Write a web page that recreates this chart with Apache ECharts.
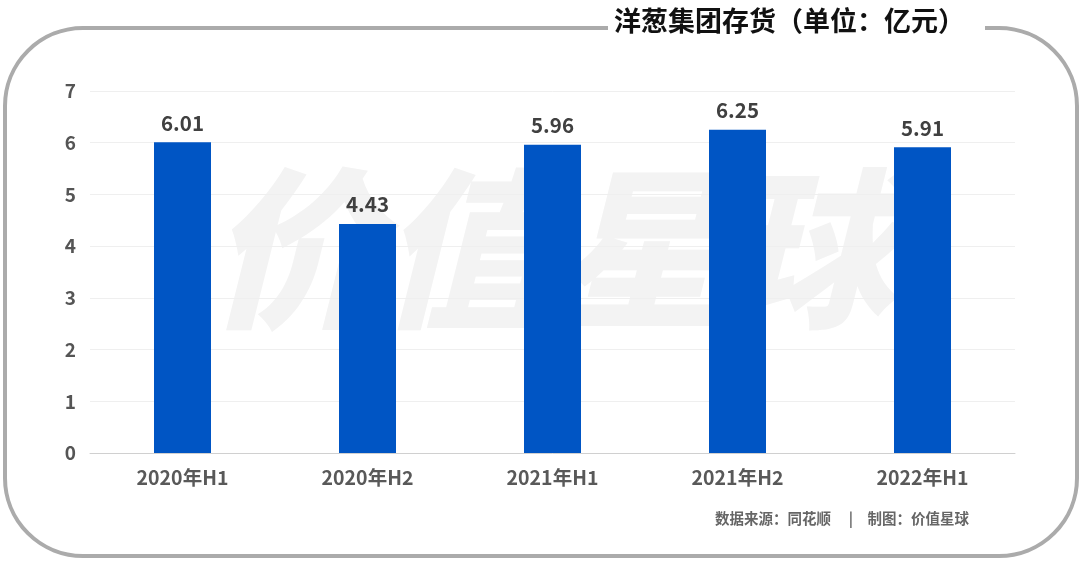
<!DOCTYPE html>
<html><head><meta charset="utf-8">
<script src="https://cdn.jsdelivr.net/npm/echarts@6/dist/echarts.min.js"></script>
<style>html,body{margin:0;padding:0;background:#fff}#c{width:1080px;height:562px}</style>
</head><body><div id="c"></div>
<script>
var categories = ['2020年H1','2020年H2','2021年H1','2021年H2','2022年H1'];
var values = [6.01, 4.43, 5.96, 6.25, 5.91];
var titleText = '洋葱集团存货（单位：亿元）';
var sourceText = '数据来源：同花顺　 |　制图：价值星球';
var watermarkText = '价值星球';

var chart = echarts.init(document.getElementById('c'));
var font = '"Noto Sans CJK SC","Noto Sans",sans-serif';
chart.setOption({
  backgroundColor: '#fff',
  animation: false,
  graphic: [
    { type: 'rect', z: 0, shape: { x: 5, y: 28, width: 1072, height: 528, r: 78 },
      style: { fill: 'none', stroke: '#ababab', lineWidth: 4 } },
    { type: 'rect', z: 1, shape: { x: 608, y: 10, width: 377, height: 30 }, style: { fill: '#fff' } },
    { type: 'text', z: 2, left: 614, top: 7,
      style: { text: titleText, font: 'bold 27px ' + font, fill: '#111' } },
    { type: 'text', z: -1, left: 208, top: 163,
      style: { text: watermarkText, font: 'italic 900 172px ' + font, fill: '#f3f3f3' } },
    { type: 'text', z: 2, left: 715, top: 511,
      style: { text: sourceText, font: 'bold 14.5px ' + font, fill: '#666' } }
  ],
  grid: { left: 90, right: 65, top: 91, bottom: 109, containLabel: false },
  xAxis: {
    type: 'category', data: categories,
    axisLine: { lineStyle: { color: '#d0d0d0', width: 1 } },
    axisTick: { show: false },
    axisLabel: { color: '#595959', fontSize: 19.5, fontWeight: 'bold', fontFamily: font, margin: 15 }
  },
  yAxis: {
    type: 'value', min: 0, max: 7, interval: 1,
    axisLine: { show: false }, axisTick: { show: false },
    splitLine: { lineStyle: { color: '#efefef', width: 1 } },
    axisLabel: { color: '#555', fontSize: 19, fontWeight: 'bold', fontFamily: font, margin: 14 }
  },
  series: [{
    type: 'bar', data: values, barWidth: 57, z: 3,
    itemStyle: { color: '#0055c4' },
    label: { show: true, position: 'top', distance: 9, color: '#404040', fontSize: 20.5, fontWeight: 'bold', fontFamily: font,
      formatter: function(p){ return p.value.toFixed(2); } }
  }]
});
</script></body></html>
